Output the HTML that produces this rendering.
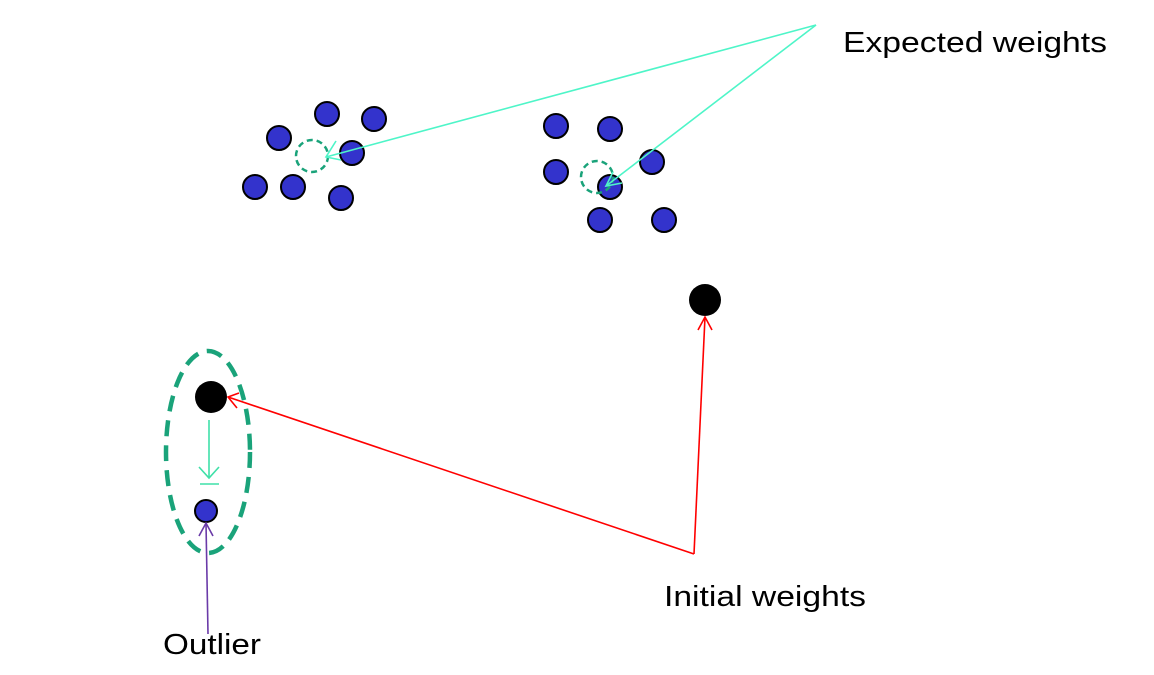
<!DOCTYPE html>
<html><head><meta charset="utf-8"><style>html,body{margin:0;padding:0;background:#fff}svg{display:block}</style></head>
<body>
<svg width="1154" height="675" viewBox="0 0 1154 675" xmlns="http://www.w3.org/2000/svg" font-family="Liberation Sans, sans-serif">
<g fill="#3333cc" stroke="#000" stroke-width="2">
<circle cx="327" cy="114" r="12"/><circle cx="374" cy="119" r="12"/><circle cx="279" cy="138" r="12"/>
<circle cx="352" cy="153" r="12"/><circle cx="255" cy="187" r="12"/><circle cx="293" cy="187" r="12"/>
<circle cx="341" cy="198" r="12"/>
<circle cx="556" cy="126" r="12"/><circle cx="610" cy="129" r="12"/><circle cx="652" cy="162" r="12"/>
<circle cx="556" cy="172" r="12"/><circle cx="610" cy="187" r="12"/><circle cx="600" cy="220" r="12"/>
<circle cx="664" cy="220" r="12"/>
<circle cx="206" cy="511" r="11"/>
</g>
<g fill="none" stroke="#1aa37a" stroke-width="2.5" stroke-dasharray="6,4">
<circle cx="312" cy="156" r="16"/><circle cx="597" cy="177" r="16"/>
</g>
<ellipse cx="208" cy="452" rx="42" ry="101" fill="none" stroke="#1aa37a" stroke-width="4.5" stroke-dasharray="16,9"/>
<circle cx="705" cy="300" r="16" fill="#000"/>
<circle cx="211" cy="397" r="16" fill="#000"/>
<g stroke="#4ef5c8" stroke-width="1.6" fill="none">
<line x1="816" y1="25" x2="326" y2="157"/><polyline points="336,141 326,157 341,160"/>
<line x1="816" y1="25" x2="606" y2="186"/><polyline points="613,172 606,186 622,183"/>
</g>
<g stroke="#3fe0a8" stroke-width="1.6" fill="none">
<line x1="209" y1="420" x2="209" y2="478"/><polyline points="199,467 209,478 219,467"/>
<line x1="200" y1="484" x2="219" y2="484"/>
</g>
<g stroke="#ff0000" stroke-width="1.6" fill="none">
<line x1="694" y1="554" x2="228" y2="397"/><polyline points="239,393 228,397 237,408"/>
<line x1="694" y1="554" x2="705" y2="317"/><polyline points="698,330 705,317 712,330"/>
</g>
<g stroke="#6a3aa8" stroke-width="1.6" fill="none">
<line x1="208" y1="634" x2="206" y2="523"/><polyline points="199,536 206,523 213,536"/>
</g>
<g fill="#000" font-size="29">
<text x="843" y="52" textLength="264" lengthAdjust="spacingAndGlyphs">Expected weights</text>
<text x="664" y="606" textLength="202" lengthAdjust="spacingAndGlyphs">Initial weights</text>
<text x="163" y="654" textLength="98" lengthAdjust="spacingAndGlyphs">Outlier</text>
</g>
</svg>
</body></html>
